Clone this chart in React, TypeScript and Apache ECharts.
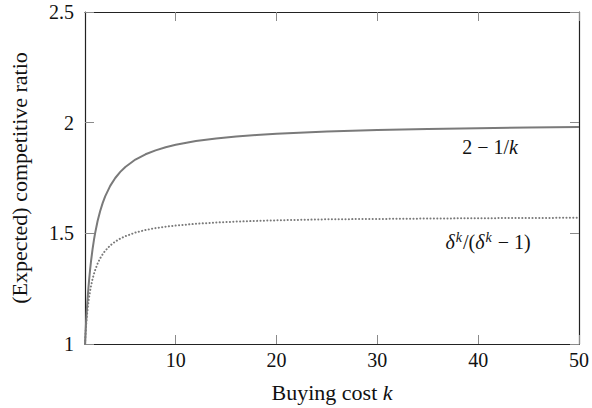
import React, { useEffect, useRef } from "react";
import * as echarts from "echarts";

const kValues = [1, 1.02, 1.05, 1.1, 1.15, 1.2, 1.3, 1.4, 1.5, 1.6, 1.75, 1.9, 2, 2.25, 2.5, 2.75, 3, 3.5, 4, 4.5, 5, 6, 7, 8, 9, 10, 12, 14, 16, 18, 20, 25, 30, 35, 40, 45, 50];
const deterministic = [1, 1.0196, 1.0476, 1.0909, 1.1304, 1.1667, 1.2308, 1.2857, 1.3333, 1.375, 1.4286, 1.4737, 1.5, 1.5556, 1.6, 1.6364, 1.6667, 1.7143, 1.75, 1.7778, 1.8, 1.8333, 1.8571, 1.875, 1.8889, 1.9, 1.9167, 1.9286, 1.9375, 1.9444, 1.95, 1.96, 1.9667, 1.9714, 1.975, 1.9778, 1.98];
const randomized = [1, 1.0185, 1.0426, 1.077, 1.1063, 1.132, 1.1746, 1.2093, 1.238, 1.2629, 1.2937, 1.3189, 1.3333, 1.3632, 1.387, 1.4055, 1.421, 1.4451, 1.463, 1.4766, 1.487, 1.5035, 1.5149, 1.5236, 1.5301, 1.5353, 1.5431, 1.5488, 1.553, 1.5562, 1.5588, 1.5634, 1.565, 1.5668, 1.5683, 1.5694, 1.5703];
const xTicks = [10, 20, 30, 40, 50];
const yTicks = [1, 1.5, 2, 2.5];

const FAMILY = "Liberation Serif";

export default function App() {
  const ref = useRef<HTMLDivElement>(null);
  useEffect(() => {
    if (!ref.current) return;
    const chart = echarts.init(ref.current, null, { renderer: "svg" });
    const tickStyle = { show: true, inside: true, length: 9, lineStyle: { color: "#8a8a8a", width: 1 } };
    const axisLine = { show: true, onZero: false, lineStyle: { color: "#222", width: 1.2 } };
    const option: any = {
      animation: false,
      backgroundColor: "#fff",
      grid: { left: 83, right: 10, top: 12, bottom: 60 },
      xAxis: [
        {
          type: "value",
          min: 1,
          max: 50,
          position: "bottom",
          axisLine,
          axisTick: { ...tickStyle, customValues: xTicks },
          axisLabel: { customValues: xTicks, color: "#111", fontFamily: FAMILY, fontSize: 20, margin: 6 },
          splitLine: { show: false },
          name: "{a|Buying cost }{b|k}",
          nameLocation: "middle",
          nameGap: 37,
          nameTextStyle: {
            rich: {
              a: { fontFamily: FAMILY, fontSize: 22, color: "#111" },
              b: { fontFamily: FAMILY, fontSize: 22, fontStyle: "italic", color: "#111" },
            },
          },
        },
        {
          type: "value",
          min: 1,
          max: 50,
          position: "top",
          axisLine,
          axisTick: { ...tickStyle, customValues: xTicks },
          axisLabel: { show: false },
          splitLine: { show: false },
        },
      ],
      yAxis: [
        {
          type: "value",
          min: 1,
          max: 2.5,
          interval: 0.5,
          position: "left",
          axisLine,
          axisTick: { ...tickStyle },
          axisLabel: {
            color: "#111",
            fontFamily: FAMILY,
            fontSize: 20,
            margin: 11,
            formatter: (v: number) => (yTicks.includes(v) ? String(v) : ""),
          },
          splitLine: { show: false },
          name: "(Expected) competitive ratio",
          nameLocation: "middle",
          nameGap: 55,
          nameRotate: 90,
          nameTextStyle: { fontFamily: FAMILY, fontSize: 22, color: "#111" },
        },
        {
          type: "value",
          min: 1,
          max: 2.5,
          interval: 0.5,
          position: "right",
          axisLine,
          axisTick: { ...tickStyle },
          axisLabel: { show: false },
          splitLine: { show: false },
        },
      ],
      series: [
        {
          type: "line",
          name: "2 - 1/k",
          data: kValues.map((k, i) => [k, deterministic[i]]),
          showSymbol: false,
          lineStyle: { color: "#7a7a7a", width: 2 },
        },
        {
          type: "line",
          name: "randomized",
          data: kValues.map((k, i) => [k, randomized[i]]),
          showSymbol: false,
          lineStyle: { color: "#7a7a7a", width: 2, type: [0.1, 3.3], cap: "round" },
        },
      ],
      graphic: [
        {
          type: "text",
          x: 490,
          y: 147,
          style: {
            text: "{n|2 − 1/}{i|k}",
            align: "center",
            verticalAlign: "middle",
            rich: {
              n: { fontFamily: FAMILY, fontSize: 20, fill: "#111" },
              i: { fontFamily: FAMILY, fontSize: 20, fontStyle: "italic", fill: "#111" },
            },
          },
        },
        {
          type: "text",
          x: 488,
          y: 242,
          style: {
            text: "{i|δ}{s|k}{n|/(}{i|δ}{s|k}{n| − 1)}",
            align: "center",
            verticalAlign: "middle",
            rich: {
              n: { fontFamily: FAMILY, fontSize: 20, fill: "#111" },
              i: { fontFamily: FAMILY, fontSize: 20, fontStyle: "italic", fill: "#111" },
              s: { fontFamily: FAMILY, fontSize: 14, fontStyle: "italic", fill: "#111", padding: [0, 1, 10, 1] },
            },
          },
        },
      ],
    };
    chart.setOption(option);
    return () => chart.dispose();
  }, []);
  return <div ref={ref} style={{ position: "absolute", left: 0, top: 0, width: 592, height: 408 }} />;
}
